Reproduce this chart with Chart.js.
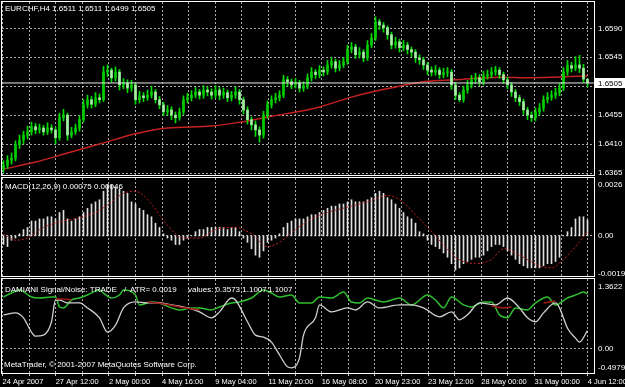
<!DOCTYPE html>
<html>
<head>
<meta charset="utf-8">
<script src="https://cdn.jsdelivr.net/npm/chart.js@4.4.1/dist/chart.umd.min.js"></script>
<style>
  html, body { margin: 0; padding: 0; background: #000; }
  #wrap { position: relative; width: 625px; height: 387px; overflow: hidden; background: #000; }
  canvas { position: absolute; left: 0; }
  .lbl { position: absolute; color: #fff; font: 8px "Liberation Sans", Arial, sans-serif; line-height: 10px; white-space: pre; }
</style>
</head>
<body>
<div id="wrap">
  <canvas id="priceChart" width="625" height="178" style="top:0"></canvas>
  <canvas id="macdChart" width="625" height="100" style="top:177px"></canvas>
  <canvas id="damChart" width="625" height="110" style="top:277px"></canvas>
  <div class="lbl" style="left:5px;top:4px">EURCHF,H4 1.6511 1.6511 1.6499 1.6505</div>
  <div class="lbl" style="left:5px;top:182px">MACD(12,26,9) 0.00075 0.00046</div>
  <div class="lbl" style="left:5px;top:285px">DAMIANI Signal/Noise: TRADE</div>
  <div class="lbl" style="left:124px;top:285px">/</div>
  <div class="lbl" style="left:130px;top:285px">ATR= 0.0019</div>
  <div class="lbl" style="left:188px;top:285px">values: 0.3573 1.1007</div>
  <div class="lbl" style="left:268px;top:285px">1.1007</div>
  <div class="lbl" style="left:4px;top:360px">MetaTrader, © 2001-2007 MetaQuotes Software Corp.</div>
</div>
<script>
// EURCHF H4, one candle every 4 hours from 24 Apr 2007
var opens = [1.6372,1.6377,1.6385,1.6388,1.6409,1.6416,1.6424,1.6429,1.6437,1.6432,
  1.6435,1.6429,1.6435,1.6432,1.6420,1.6451,1.6455,1.6424,1.6429,1.6435,
  1.6448,1.6471,1.6479,1.6472,1.6482,1.6479,1.6522,1.6525,1.6513,1.6522,
  1.6502,1.6505,1.6497,1.6502,1.6479,1.6485,1.6482,1.6486,1.6491,1.6479,
  1.6471,1.6460,1.6463,1.6455,1.6451,1.6460,1.6479,1.6482,1.6486,1.6491,
  1.6486,1.6494,1.6491,1.6486,1.6494,1.6486,1.6490,1.6482,1.6486,1.6491,
  1.6479,1.6463,1.6448,1.6440,1.6432,1.6424,1.6455,1.6471,1.6479,1.6482,
  1.6486,1.6510,1.6507,1.6502,1.6505,1.6497,1.6500,1.6513,1.6522,1.6518,
  1.6525,1.6522,1.6533,1.6538,1.6528,1.6533,1.6538,1.6557,1.6561,1.6549,
  1.6553,1.6544,1.6564,1.6575,1.6600,1.6595,1.6591,1.6580,1.6564,1.6569,
  1.6560,1.6564,1.6557,1.6553,1.6544,1.6541,1.6533,1.6525,1.6522,1.6525,
  1.6518,1.6521,1.6522,1.6502,1.6486,1.6479,1.6494,1.6502,1.6510,1.6513,
  1.6507,1.6516,1.6518,1.6522,1.6525,1.6518,1.6510,1.6502,1.6491,1.6482,
  1.6476,1.6463,1.6455,1.6451,1.6460,1.6466,1.6479,1.6483,1.6486,1.6490,
  1.6497,1.6522,1.6532,1.6528,1.6533,1.6528,1.6511];
var highs = [1.6384,1.6392,1.6396,1.6415,1.6424,1.6430,1.6438,1.6444,1.6442,1.6441,
  1.6439,1.6443,1.6440,1.6436,1.6458,1.6464,1.6458,1.6436,1.6441,1.6454,
  1.6479,1.6486,1.6484,1.6490,1.6488,1.6531,1.6533,1.6528,1.6530,1.6526,
  1.6512,1.6510,1.6509,1.6505,1.6492,1.6490,1.6494,1.6500,1.6495,1.6484,
  1.6475,1.6470,1.6468,1.6460,1.6466,1.6485,1.6489,1.6493,1.6498,1.6495,
  1.6501,1.6499,1.6496,1.6501,1.6498,1.6497,1.6494,1.6492,1.6499,1.6495,
  1.6483,1.6468,1.6452,1.6446,1.6437,1.6461,1.6477,1.6485,1.6489,1.6493,
  1.6517,1.6515,1.6511,1.6512,1.6509,1.6507,1.6519,1.6529,1.6526,1.6532,
  1.6530,1.6540,1.6545,1.6542,1.6540,1.6545,1.6564,1.6568,1.6565,1.6560,
  1.6557,1.6571,1.6582,1.6608,1.6604,1.6599,1.6594,1.6584,1.6576,1.6573,
  1.6571,1.6568,1.6561,1.6557,1.6549,1.6545,1.6537,1.6530,1.6532,1.6529,
  1.6528,1.6529,1.6526,1.6506,1.6490,1.6500,1.6509,1.6517,1.6520,1.6518,
  1.6523,1.6525,1.6529,1.6531,1.6529,1.6522,1.6514,1.6506,1.6495,1.6486,
  1.6480,1.6467,1.6460,1.6466,1.6473,1.6485,1.6490,1.6493,1.6497,1.6504,
  1.6529,1.6540,1.6537,1.6546,1.6548,1.6534,1.6511];
var lows = [1.6366,1.6372,1.6379,1.6384,1.6403,1.6410,1.6418,1.6424,1.6426,1.6427,
  1.6424,1.6425,1.6427,1.6410,1.6416,1.6446,1.6416,1.6420,1.6425,1.6430,
  1.6444,1.6466,1.6466,1.6468,1.6474,1.6476,1.6515,1.6506,1.6508,1.6494,
  1.6496,1.6490,1.6492,1.6472,1.6474,1.6476,1.6478,1.6482,1.6474,1.6465,
  1.6454,1.6455,1.6448,1.6443,1.6447,1.6456,1.6474,1.6477,1.6482,1.6480,
  1.6481,1.6485,1.6480,1.6482,1.6479,1.6481,1.6476,1.6477,1.6481,1.6472,
  1.6457,1.6441,1.6432,1.6422,1.6413,1.6419,1.6450,1.6466,1.6474,1.6477,
  1.6482,1.6500,1.6496,1.6497,1.6491,1.6492,1.6496,1.6508,1.6512,1.6513,
  1.6516,1.6518,1.6528,1.6522,1.6524,1.6529,1.6534,1.6552,1.6543,1.6544,
  1.6538,1.6540,1.6560,1.6571,1.6588,1.6584,1.6573,1.6558,1.6559,1.6553,
  1.6555,1.6550,1.6546,1.6537,1.6534,1.6526,1.6518,1.6516,1.6517,1.6512,
  1.6513,1.6515,1.6495,1.6479,1.6476,1.6475,1.6489,1.6497,1.6504,1.6501,
  1.6502,1.6511,1.6513,1.6517,1.6512,1.6504,1.6496,1.6484,1.6476,1.6470,
  1.6456,1.6448,1.6445,1.6446,1.6455,1.6461,1.6474,1.6478,1.6481,1.6485,
  1.6493,1.6517,1.6522,1.6524,1.6521,1.6506,1.6499];
var closes = [1.6377,1.6385,1.6388,1.6409,1.6416,1.6424,1.6429,1.6437,1.6432,1.6435,
  1.6429,1.6435,1.6432,1.6420,1.6451,1.6455,1.6424,1.6429,1.6435,1.6448,
  1.6471,1.6479,1.6472,1.6482,1.6479,1.6522,1.6525,1.6513,1.6522,1.6502,
  1.6505,1.6497,1.6502,1.6479,1.6485,1.6482,1.6486,1.6491,1.6479,1.6471,
  1.6460,1.6463,1.6455,1.6451,1.6460,1.6479,1.6482,1.6486,1.6491,1.6486,
  1.6494,1.6491,1.6486,1.6494,1.6486,1.6490,1.6482,1.6486,1.6491,1.6479,
  1.6463,1.6448,1.6440,1.6432,1.6424,1.6455,1.6471,1.6479,1.6482,1.6486,
  1.6510,1.6507,1.6502,1.6505,1.6497,1.6500,1.6513,1.6522,1.6518,1.6525,
  1.6522,1.6533,1.6538,1.6528,1.6533,1.6538,1.6557,1.6561,1.6549,1.6553,
  1.6544,1.6564,1.6575,1.6600,1.6595,1.6591,1.6580,1.6564,1.6569,1.6560,
  1.6564,1.6557,1.6553,1.6544,1.6541,1.6533,1.6525,1.6522,1.6525,1.6518,
  1.6521,1.6522,1.6502,1.6486,1.6479,1.6494,1.6502,1.6510,1.6513,1.6507,
  1.6516,1.6518,1.6522,1.6525,1.6518,1.6510,1.6502,1.6491,1.6482,1.6476,
  1.6463,1.6455,1.6451,1.6460,1.6466,1.6479,1.6483,1.6486,1.6490,1.6497,
  1.6522,1.6532,1.6528,1.6533,1.6528,1.6511,1.6505];

// red moving average, read at a few candles
var maBars = [0, 8, 16, 24, 33, 41, 52, 59, 66, 78, 87, 92, 99, 105, 113, 124, 132, 138, 146];
var maValues = [1.6371, 1.6382, 1.6396, 1.6410, 1.6426, 1.6435, 1.6438, 1.6444, 1.6452, 1.6466,
  1.6483, 1.6491, 1.6500, 1.6507, 1.6510, 1.6514, 1.6513, 1.6514, 1.6516];

var macdValues = [-0.0004,-0.0005,-0.0002,-0.0001,0.0001,0.0003,0.0004,0.0007,0.0007,0.0008,
  0.0008,0.0009,0.0009,0.0008,0.0011,0.0012,0.0008,0.0007,0.0008,0.0009,
  0.0011,0.0013,0.0015,0.0016,0.0017,0.0021,0.0024,0.0024,0.0023,0.0022,
  0.0021,0.0020,0.0016,0.0015,0.0013,0.0012,0.0010,0.0009,0.0006,0.0004,
  0.0001,-0.0001,-0.0002,-0.0004,-0.0004,-0.0002,-0.0001,0.0000,0.0002,0.0003,
  0.0003,0.0004,0.0004,0.0004,0.0004,0.0004,0.0003,0.0004,0.0004,0.0002,
  -0.0001,-0.0003,-0.0006,-0.0009,-0.0010,-0.0007,-0.0003,-0.0002,-0.0001,0.0001,
  0.0004,0.0006,0.0007,0.0008,0.0008,0.0008,0.0009,0.0010,0.0010,0.0011,
  0.0012,0.0013,0.0014,0.0014,0.0015,0.0015,0.0016,0.0017,0.0016,0.0016,
  0.0016,0.0017,0.0018,0.0020,0.0021,0.0020,0.0018,0.0017,0.0015,0.0013,
  0.0011,0.0009,0.0008,0.0006,0.0002,0.0001,-0.0002,-0.0004,-0.0005,-0.0006,
  -0.0008,-0.0010,-0.0013,-0.0016,-0.0015,-0.0013,-0.0012,-0.0011,-0.0010,-0.0010,
  -0.0009,-0.0007,-0.0005,-0.0004,-0.0004,-0.0005,-0.0007,-0.0009,-0.0011,-0.0013,
  -0.0014,-0.0015,-0.0015,-0.0015,-0.0015,-0.0014,-0.0013,-0.0013,-0.0012,-0.0010,
  0.0000,0.0002,0.0004,0.0008,0.0009,0.0009,0.00075];
var signalBars = [0,3,6,10,15,20,24,27,30,33,35,37,41,45,49,53,58,62,66,69,
  73,77,81,87,91,96,99,104,108,113,118,122,125,129,134,137,140,143,146];
var signalValues = [0.0001,-0.0002,-0.0001,0.0004,0.0007,0.0009,0.0012,0.0016,0.0020,0.0021,
  0.0019,0.0015,0.0005,-0.0001,-0.0001,0.0003,0.0004,0.0001,-0.0005,-0.0003,
  0.0003,0.0008,0.0011,0.0014,0.0016,0.0019,0.0017,0.0008,0.0000,-0.0010,
  -0.0013,-0.0011,-0.0006,-0.0009,-0.0014,-0.0015,-0.0011,-0.0005,0.0002];

// DAMIANI Signal/Noise lines
var damGreenBars = [0,2,4,7,9,12,13,14,15,17,19,21,24,25,27,29,30,33,34,37,39,42,44,47,49,52,54,57,59,62,
  65,67,69,72,74,77,79,82,85,87,89,91,95,99,102,106,108,110,112,115,117,120,122,124,126,128,131,133,136,138,
  141,143,145,146];
var damGreenValues = [1.04,1.12,1.18,1.04,1.02,1.04,1.04,0.84,0.82,0.98,1.02,1.08,1.18,1.12,1.02,1.08,1.18,1.08,0.88,0.94,
  0.92,0.82,0.78,0.82,0.82,0.78,0.84,0.92,0.94,1.02,1.18,1.12,1.04,1.08,0.92,0.92,1.04,1.02,1.14,0.94,
  0.92,1.02,0.94,1.02,0.88,1.08,0.98,0.82,1.04,0.88,0.84,0.94,0.94,0.68,0.62,0.82,0.78,0.92,1.04,0.88,
  1.02,1.08,1.14,1.10];
var damWhiteBars = [0,3,5,7,8,10,12,13,14,16,19,21,24,26,28,30,33,36,39,42,46,49,52,54,57,58,61,63,65,67,
  69,71,72,74,75,78,79,82,86,88,91,94,99,102,105,109,112,114,116,119,123,126,129,131,133,135,138,139,141,143,
  144,146];
var damWhiteValues = [0.68,0.72,0.62,0.33,0.25,0.27,0.54,0.98,0.98,0.92,0.92,0.82,0.62,0.33,0.47,0.82,0.94,0.92,0.92,0.88,
  0.82,0.74,0.62,0.74,1.02,0.98,0.54,0.27,0.23,0.13,-0.13,-0.37,-0.39,-0.19,0.27,0.62,0.88,0.74,0.82,0.78,
  0.94,0.82,0.88,0.88,0.82,0.64,0.74,0.58,0.68,0.92,0.88,1.02,0.82,0.62,0.54,0.72,0.92,0.82,0.41,0.21,
  0.13,0.36];
var damRedBars = [13,15,17,18,36,40,44,49,50,122,125,127,128,135,138];
var damRedValues = [1.0,1.0,0.98,null,0.94,0.9,0.84,0.78,null,0.86,0.82,0.84,null,0.92,0.96];

// axis labels
var priceTicks = [1.6365, 1.6410, 1.6455, 1.6500, 1.6545, 1.6590];
var priceTickLabels = ['1.6365', '1.6410', '1.6455', '', '1.6545', '1.6590'];
var macdSideLabels = ['0.0026', '0.00', '-0.00194'];
var damSideLabels = ['1.3622', '0.00', '-0.4979'];
var dateLabels = ['24 Apr 2007', '27 Apr 12:00', '2 May 00:00', '4 May 16:00', '9 May 04:00', '11 May 20:00',
  '16 May 08:00', '20 May 23:00', '23 May 12:00', '28 May 00:00', '31 May 00:00', '4 Jun 12:00'];

var fontFamily = 'Liberation Sans';
var gridColor = 'rgba(200,200,200,0.85)';
var xMin = -0.375, xMax = 147.625;
var gridStart = -0.25, gridStep = 6.65; // dotted time grid, labels on every other line

function xAxis(showLabels) {
  return {
    type: 'linear', min: xMin, max: xMax, offset: false,
    grid: { display: false, drawTicks: false, offset: false },
    border: { display: false },
    ticks: {
      display: showLabels, autoSkip: false, maxRotation: 0, minRotation: 0, align: 'start', padding: 4,
      color: '#ffffff', font: { family: fontFamily, size: 7.5 },
      callback: function (v, i) { return i % 2 === 0 ? dateLabels[i / 2] : ''; }
    },
    afterBuildTicks: function (s) {
      s.ticks = [];
      for (var k = 0; k <= 2 * (dateLabels.length - 1); k++) s.ticks.push({ value: gridStart + k * gridStep });
    },
    afterFit: function (s) { s.height = showLabels ? 14 : 0; s.paddingLeft = 0; s.paddingRight = 0; }
  };
}

function sideAxis(min, max, tickValues, tickLabels) {
  return {
    position: 'right', min: min, max: max,
    grid: { display: false, drawTicks: false },
    border: { display: false },
    ticks: {
      display: !!tickLabels, padding: 4, color: '#ffffff', font: { family: fontFamily, size: 8 },
      callback: function (v, i) { return tickLabels ? tickLabels[i] : ''; }
    },
    afterBuildTicks: function (s) { s.ticks = tickValues.map(function (v) { return { value: v }; }); },
    afterFit: function (s) { s.width = 31; s.paddingTop = 0; s.paddingBottom = 0; }
  };
}

// dotted grid behind the marks, plus tick marks under the last pane
var dottedGrid = {
  id: 'dottedGrid',
  beforeDatasetsDraw: function (chart, args, opts) {
    var ctx = chart.ctx, a = chart.chartArea, xs = chart.scales.x, ys = chart.scales.y;
    ctx.save();
    ctx.strokeStyle = gridColor;
    ctx.lineWidth = 1;
    ctx.setLineDash([2, 2]);
    ctx.beginPath();
    xs.ticks.forEach(function (t, i) {
      var px = Math.floor(xs.getPixelForTick(i)) + 0.5;
      ctx.moveTo(px, a.top);
      ctx.lineTo(px, a.bottom);
    });
    ys.ticks.forEach(function (t, i) {
      var py = Math.floor(ys.getPixelForTick(i)) + 0.5;
      ctx.moveTo(a.left, py);
      ctx.lineTo(a.right, py);
    });
    ctx.stroke();
    if (opts.tickMarks) {
      ctx.setLineDash([]);
      ctx.strokeStyle = '#cccccc';
      ctx.beginPath();
      xs.ticks.forEach(function (t, i) {
        var px = Math.floor(xs.getPixelForTick(i)) + 0.5;
        ctx.moveTo(px, a.bottom);
        ctx.lineTo(px, a.bottom + 3);
      });
      ctx.stroke();
    }
    ctx.restore();
  }
};

var frame = {
  id: 'frame',
  afterDraw: function (chart) {
    var ctx = chart.ctx, a = chart.chartArea;
    ctx.save();
    ctx.strokeStyle = '#ffffff';
    ctx.lineWidth = 1;
    ctx.strokeRect(a.left - 0.5, a.top - 0.5, a.right - a.left + 1, a.bottom - a.top + 1);
    ctx.restore();
  }
};

var sideText = {
  id: 'sideText',
  afterDraw: function (chart, args, opts) {
    if (!opts.items) return;
    var ctx = chart.ctx, a = chart.chartArea;
    ctx.save();
    ctx.font = '8px "' + fontFamily + '"';
    ctx.fillStyle = '#ffffff';
    ctx.textBaseline = 'middle';
    opts.items.forEach(function (it) {
      var y = it.at === 'top' ? a.top + it.dy : it.at === 'bottom' ? a.bottom + it.dy : chart.scales.y.getPixelForValue(it.at) + it.dy;
      ctx.fillText(it.text, a.right + 4, y);
    });
    ctx.restore();
  }
};

var bidBox = {
  id: 'bidBox',
  afterDraw: function (chart) {
    var ctx = chart.ctx, a = chart.chartArea;
    var bid = closes[closes.length - 1];
    var y = Math.round(chart.scales.y.getPixelForValue(bid));
    ctx.save();
    ctx.fillStyle = '#ffffff';
    ctx.fillRect(a.right + 1, y - 5, 30, 10);
    ctx.fillStyle = '#000000';
    ctx.font = '8px "' + fontFamily + '"';
    ctx.textBaseline = 'middle';
    ctx.fillText(bid.toFixed(4), a.right + 4, y + 0.5);
    ctx.restore();
  }
};

function points(xs, ys) { return xs.map(function (x, i) { return { x: x, y: ys[i] }; }); }

var common = {
  responsive: false, animation: false, events: [],
  plugins: { legend: { display: false }, tooltip: { enabled: false } }
};

// price pane
new Chart(document.getElementById('priceChart'), {
  type: 'bar',
  data: {
    datasets: [
      {
        type: 'line', data: [{ x: xMin, y: closes[closes.length - 1] }, { x: xMax, y: closes[closes.length - 1] }],
        borderColor: '#e8e8e8', borderWidth: 1, pointRadius: 0, order: 0
      },
      {
        type: 'line', data: points(maBars, maValues), borderColor: '#c42020', borderWidth: 1.5,
        pointRadius: 0, cubicInterpolationMode: 'monotone', order: 3
      },
      {
        data: closes.map(function (c, i) { return { x: i, y: [lows[i], highs[i]] }; }),
        backgroundColor: '#00dd00', barThickness: 1, grouped: false, order: 2
      },
      {
        data: closes.map(function (c, i) { return { x: i, y: [opens[i], c] }; }),
        backgroundColor: function (ctx) { return closes[ctx.dataIndex] >= opens[ctx.dataIndex] ? '#00cc00' : '#a8f0a8'; },
        barThickness: 2, minBarLength: 1, grouped: false, order: 1
      }
    ]
  },
  options: Object.assign({}, common, {
    layout: { padding: { left: 2, top: 2, right: 0, bottom: 3 } },
    scales: { x: xAxis(false), y: sideAxis(1.63619, 1.66309, priceTicks, priceTickLabels) }
  }),
  plugins: [dottedGrid, frame, bidBox]
});

// MACD pane
new Chart(document.getElementById('macdChart'), {
  type: 'bar',
  data: {
    datasets: [
      {
        type: 'line', data: points(signalBars, signalValues), borderColor: '#c42020', borderWidth: 1,
        borderDash: [2, 2], pointRadius: 0, cubicInterpolationMode: 'monotone', order: 0
      },
      {
        data: macdValues.map(function (v, i) { return { x: i, y: v }; }),
        backgroundColor: '#e0e0e0', barThickness: 1, grouped: false, order: 1
      }
    ]
  },
  options: Object.assign({}, common, {
    layout: { padding: { left: 2, top: 1, right: 0, bottom: 1 } },
    scales: { x: xAxis(false), y: sideAxis(-0.00188, 0.00272, [0], null) },
    plugins: Object.assign({}, common.plugins, {
      sideText: { items: [
        { text: macdSideLabels[0], at: 'top', dy: 7 },
        { text: macdSideLabels[1], at: 0, dy: 0 },
        { text: macdSideLabels[2], at: 'bottom', dy: -2 }
      ] }
    })
  }),
  plugins: [dottedGrid, frame, sideText]
});

// DAMIANI Signal/Noise pane
new Chart(document.getElementById('damChart'), {
  type: 'line',
  data: {
    datasets: [
      { data: points(damRedBars, damRedValues), borderColor: '#a01818', borderWidth: 1.5, pointRadius: 0, spanGaps: false, cubicInterpolationMode: 'monotone' },
      { data: points(damWhiteBars, damWhiteValues), borderColor: '#d0d0d0', borderWidth: 1.3, pointRadius: 0, cubicInterpolationMode: 'monotone' },
      { data: points(damGreenBars, damGreenValues), borderColor: '#2fbf2f', borderWidth: 1.5, pointRadius: 0, cubicInterpolationMode: 'monotone' }
    ]
  },
  options: Object.assign({}, common, {
    layout: { padding: { left: 2, top: 2, right: 0, bottom: 0 } },
    scales: { x: xAxis(true), y: sideAxis(-0.495, 1.404, [0], null) },
    plugins: Object.assign({}, common.plugins, {
      dottedGrid: { tickMarks: true },
      sideText: { items: [
        { text: damSideLabels[0], at: 'top', dy: 8 },
        { text: damSideLabels[1], at: 0, dy: 0 },
        { text: damSideLabels[2], at: 'bottom', dy: -5 }
      ] }
    })
  }),
  plugins: [dottedGrid, frame, sideText]
});
</script>
</body>
</html>
